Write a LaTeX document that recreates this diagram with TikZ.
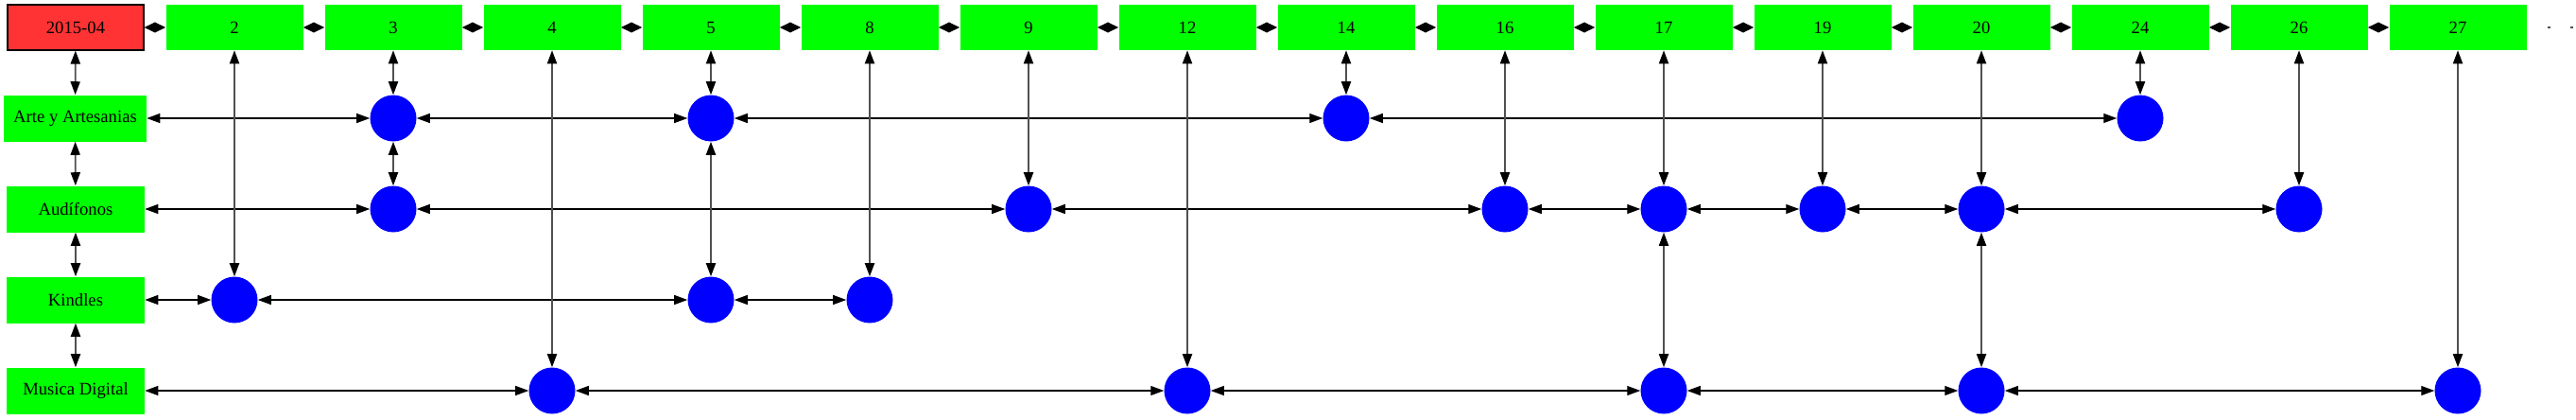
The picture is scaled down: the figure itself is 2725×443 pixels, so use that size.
\documentclass[tikz,border=0pt]{standalone}
\usepackage{fontspec}
\setmainfont{Liberation Serif}
\usetikzlibrary{arrows.meta}
\definecolor{boxred}{RGB}{255,51,51}
\definecolor{vgray}{RGB}{80,80,80}
\begin{document}
\begin{tikzpicture}[x=0.75pt,y=-0.75pt,
  lbl/.style={font=\fontsize{14}{16}\selectfont, inner sep=0pt},
  topbox/.style={lbl, rectangle, fill=green, minimum width=108.75pt, minimum height=36pt},
  datebox/.style={lbl, rectangle, fill=boxred, draw=black, line width=0.8pt, minimum width=108pt, minimum height=36pt},
  rowbox/.style={lbl, rectangle, fill=green, minimum width=109.5pt, minimum height=36.75pt},
  dot/.style={circle, fill=blue, minimum size=36.75pt, inner sep=0pt},
  hz/.style={black, line width=0.9pt, arrows={Triangle[length=10.5pt,width=7.5pt]-Triangle[length=10.5pt,width=7.5pt]}},
  vt/.style={vgray, line width=1.4pt, arrows={Triangle[length=10.5pt,width=7.5pt,color=black]-Triangle[length=10.5pt,width=7.5pt,color=black]}},
  tp/.style={black, line width=0.9pt, arrows={Triangle[length=8.6pt,width=8pt]-Triangle[length=8.6pt,width=8pt]}}
]
\useasboundingbox[fill=white] (0,0) rectangle (2725,443);
% top row
\node[datebox] (t0) at (80,29) {2015-04};
\node[topbox] (t2) at (248,29) {2};
\node[topbox] (t3) at (416,29) {3};
\node[topbox] (t4) at (584,29) {4};
\node[topbox] (t5) at (752,29) {5};
\node[topbox] (t8) at (920,29) {8};
\node[topbox] (t9) at (1088,29) {9};
\node[topbox] (t12) at (1256,29) {12};
\node[topbox] (t14) at (1424,29) {14};
\node[topbox] (t16) at (1592,29) {16};
\node[topbox] (t17) at (1760,29) {17};
\node[topbox] (t19) at (1928,29) {19};
\node[topbox] (t20) at (2096,29) {20};
\node[topbox] (t24) at (2264,29) {24};
\node[topbox] (t26) at (2432,29) {26};
\node[topbox] (t27) at (2600,29) {27};
% row labels
\node[rowbox, minimum width=113.25pt] (rA) at (79.5,125) {Arte y Artesanias};
\node[rowbox] (rU) at (80,221) {Audífonos};
\node[rowbox] (rK) at (80,317) {Kindles};
\node[rowbox] (rM) at (80,413) {Musica Digital};
% circles
\node[dot] (A3) at (416,125) {};
\node[dot] (A5) at (752,125) {};
\node[dot] (A14) at (1424,125) {};
\node[dot] (A24) at (2264,125) {};
\node[dot] (U3) at (416,221) {};
\node[dot] (U9) at (1088,221) {};
\node[dot] (U16) at (1592,221) {};
\node[dot] (U17) at (1760,221) {};
\node[dot] (U19) at (1928,221) {};
\node[dot] (U20) at (2096,221) {};
\node[dot] (U26) at (2432,221) {};
\node[dot] (K2) at (248,317) {};
\node[dot] (K5) at (752,317) {};
\node[dot] (K8) at (920,317) {};
\node[dot] (M4) at (584,413) {};
\node[dot] (M12) at (1256,413) {};
\node[dot] (M17) at (1760,413) {};
\node[dot] (M20) at (2096,413) {};
\node[dot] (M27) at (2600,413) {};
% top chain
\foreach \a/\b in {t0/t2,t2/t3,t3/t4,t4/t5,t5/t8,t8/t9,t9/t12,t12/t14,t14/t16,t16/t17,t17/t19,t19/t20,t20/t24,t24/t26,t26/t27}
  \draw[tp] (\a) -- (\b);
% left chain
\foreach \a/\b in {t0/rA,rA/rU,rU/rK,rK/rM}
  \draw[vt] (\a) -- (\b);
% horizontal rows
\foreach \a/\b in {rA/A3,A3/A5,A5/A14,A14/A24,
                   rU/U3,U3/U9,U9/U16,U16/U17,U17/U19,U19/U20,U20/U26,
                   rK/K2,K2/K5,K5/K8,
                   rM/M4,M4/M12,M12/M17,M17/M20,M20/M27}
  \draw[hz] (\a) -- (\b);
% vertical columns
\foreach \a/\b in {t2/K2,t3/A3,A3/U3,t4/M4,t5/A5,A5/K5,t8/K8,t9/U9,t12/M12,t14/A14,
                   t16/U16,t17/U17,U17/M17,t19/U19,t20/U20,U20/M20,t24/A24,t26/U26,t27/M27}
  \draw[vt] (\a) -- (\b);
% trailing marks
\fill[vgray] (2695,28.3) rectangle (2697.5,29.7);
\fill[vgray] (2719,28.3) rectangle (2721.5,29.7);
\end{tikzpicture}
\end{document}
